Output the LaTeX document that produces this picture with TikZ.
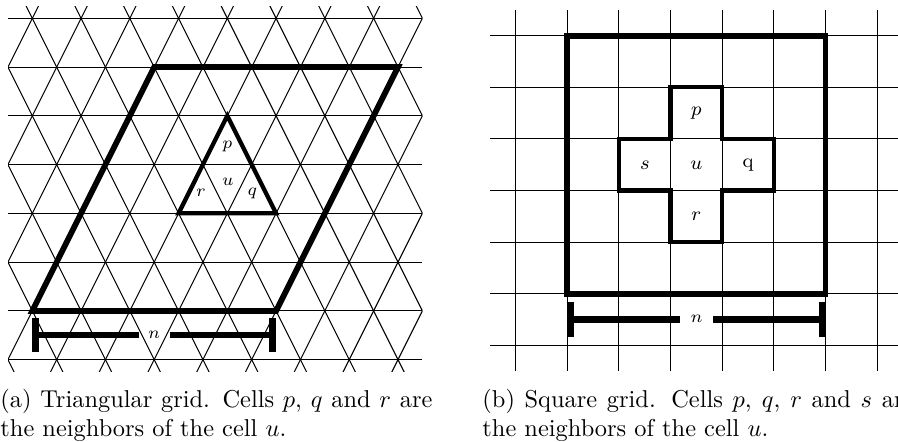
\documentclass[tikz,border=0pt]{standalone}
\usetikzlibrary{calc}
\tikzset{
  gridline/.style={line width=0.42pt, black},
  outline/.style={line width=2.35pt, line join=miter},
  cellline/.style={line width=1.75pt, line join=miter},
  barline/.style={line width=2.7pt},
  tlabel/.style={font=\scriptsize, inner sep=0pt},
  slabel/.style={font=\footnotesize, inner sep=0pt},
  nlabel/.style={font=\scriptsize, inner ysep=0pt},
  caption/.style={anchor=base west, inner sep=0pt},
}
\begin{document}
\begin{tikzpicture}[x=0.41pt,y=-0.41pt]
\useasboundingbox (0,0) rectangle (898,441);
% ---------------- triangular grid ----------------
\def\c{48.76}
\begin{scope}
  \clip (8,6) rectangle (422.3,371.5);
  \foreach \k in {0,...,7}
    \draw[gridline] (8,{18.3+\k*\c}) -- (422.3,{18.3+\k*\c});
  \foreach \j in {-6,...,13} {
    \draw[gridline] ({32.3+\j*\c-24.15},-30) -- ({32.3+\j*\c+190.85},400);
    \draw[gridline] ({32.3+\j*\c+24.15},-30) -- ({32.3+\j*\c-190.85},400);
  }
\end{scope}
% rhombus
\coordinate (A) at (32.3,310.9);
\coordinate (B) at (276.1,310.9);
\coordinate (C) at (398.0,67.1);
\coordinate (D) at (154.2,67.1);
\draw[outline] (A) -- (B) -- (C) -- (D) -- cycle;
% neighbourhood triangle
\coordinate (T1) at (227.3,115.8);
\coordinate (T2) at (178.6,213.3);
\coordinate (T3) at (276.1,213.3);
\draw[cellline] (T1) -- (T2) -- (T3) -- cycle;
\node[tlabel] (tp) at (227.3,146) {$p$};
\node[tlabel] (tu) at (227.8,182) {$u$};
\node[tlabel] (tr) at (201,193) {$r$};
\node[tlabel] (tq) at (252.5,193) {$q$};
% n bar
\coordinate (nLa) at (32.3,335);
\coordinate (nRa) at (276.1,335);
\node[nlabel, inner xsep=3.65pt] (na) at (154.2,335) {$n$};
\draw[barline] (nLa) -- (na);
\draw[barline] (na) -- (nRa);
\draw[barline] ($(nLa)+(3.4,-16.7)$) -- ($(nLa)+(3.4,16.7)$);
\draw[barline] ($(nRa)+(-3.4,-16.7)$) -- ($(nRa)+(-3.4,16.7)$);
% ---------------- square grid ----------------
\def\d{51.63}
\foreach \i in {0,...,6}
  \draw[gridline] (490,{35.7+\i*\d}) -- (903,{35.7+\i*\d});
\foreach \j in {0,...,7}
  \draw[gridline] ({515.7+\j*\d},10) -- ({515.7+\j*\d},371);
\coordinate (S1) at (567.33,35.7);
\coordinate (S2) at (825.5,293.85);
\draw[outline] (S1) rectangle (S2);
\draw[cellline] (670.6,87.3) -- (722.2,87.3) -- (722.2,139) -- (773.9,139)
  -- (773.9,190.6) -- (722.2,190.6) -- (722.2,242.2) -- (670.6,242.2)
  -- (670.6,190.6) -- (619,190.6) -- (619,139) -- (670.6,139) -- cycle;
\node[slabel] (sp) at (696.4,113.1) {$p$};
\node[slabel] (ss) at (644.8,164.8) {$s$};
\node[slabel] (su) at (696.4,164.8) {$u$};
\node[slabel] (sq) at (748.1,164.8) {q};
\node[slabel] (sr) at (696.4,216.4) {$r$};
% n bar
\coordinate (nLb) at (567.33,319.3);
\coordinate (nRb) at (825.5,319.3);
\node[nlabel, inner xsep=4pt] (nb) at (696.7,319.3) {$n$};
\draw[barline] (nLb) -- (nb);
\draw[barline] (nb) -- (nRb);
\draw[barline] ($(nLb)+(3.4,-17.8)$) -- ($(nLb)+(3.4,17.8)$);
\draw[barline] ($(nRb)+(-3.4,-17.8)$) -- ($(nRb)+(-3.4,17.8)$);
% ---------------- captions ----------------
\node[caption] (ca1) at (0,407.7) {\hbox to 177.1pt{(a) Triangular grid. Cells $p$, $q$ and $r$ are}};
\node[caption] (ca2) at (0,436.7) {the neighbors of the cell $u$.};
\node[caption] (cb1) at (482,407.7) {\hbox to 177.1pt{(b) Square grid. Cells $p$, $q$, $r$ and $s$ are}};
\node[caption] (cb2) at (482,436.7) {the neighbors of the cell $u$.};
\end{tikzpicture}
\end{document}
